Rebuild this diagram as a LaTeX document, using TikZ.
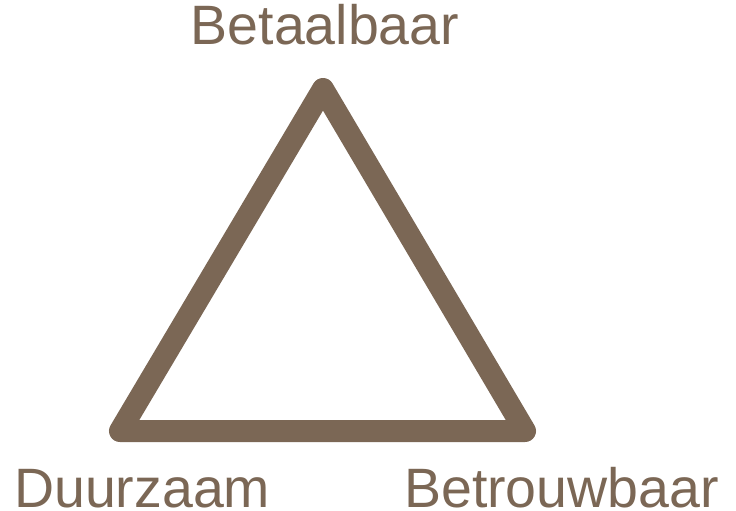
\documentclass[tikz,border=0pt]{standalone}
\usepackage{fontspec}
\setmainfont{Liberation Sans}
\usepackage{tikz}
\definecolor{bruin}{RGB}{123,103,85}
\tikzstyle{label} = [inner sep=0pt, text depth=0pt, text=bruin, font=\fontsize{55.5}{60}\selectfont]
\tikzstyle{rand} = [draw=bruin, line width=22pt, line join=round]

\begin{document}
\begin{tikzpicture}[x=1pt, y=-1pt]
    \useasboundingbox (0,0) rectangle (736,511);
    \coordinate (top) at (323,89);
    \coordinate (links) at (120,431);
    \coordinate (rechts) at (525,431);

    \draw[rand] (top) -- (links) -- (rechts) -- cycle;

    \node (betaalbaar) [label, anchor=base] at (325,45) {Betaalbaar};
    \node (duurzaam) [label, anchor=base west] at (14,507) {Duurzaam};
    \node (betrouwbaar) [label, anchor=base east] at (719,507) {Betrouwbaar};
  \end{tikzpicture}
\end{document}
